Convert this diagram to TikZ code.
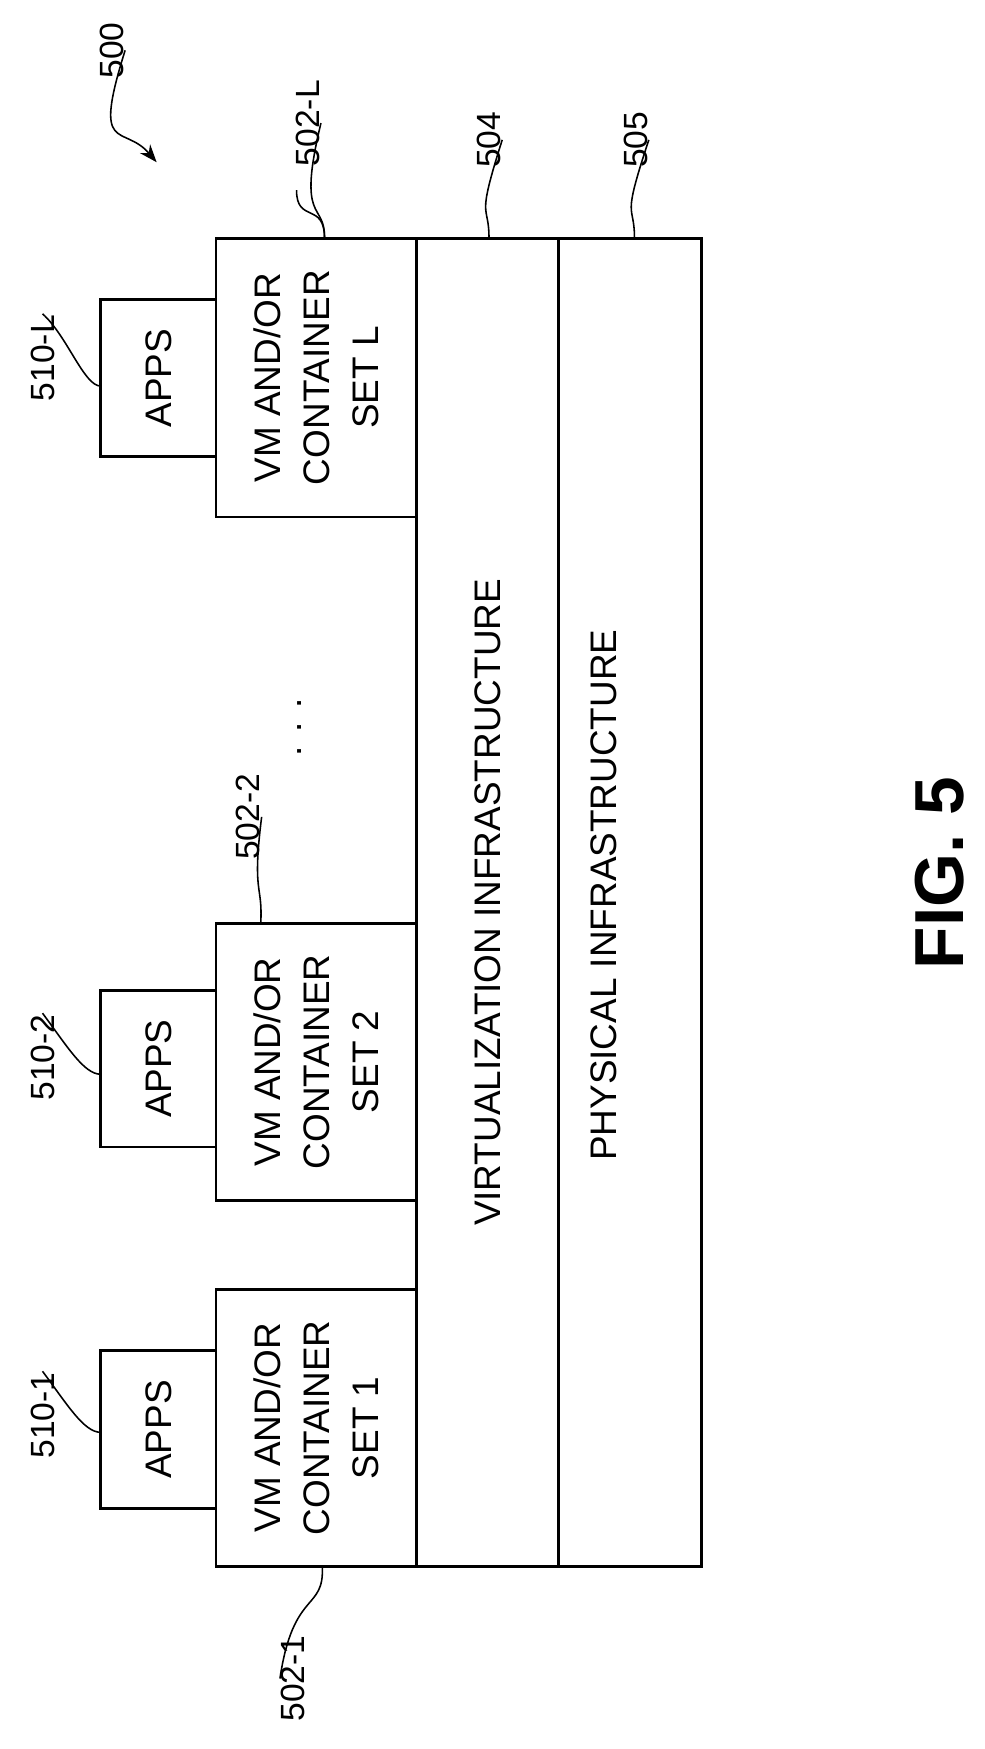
\documentclass[tikz,border=0pt]{standalone}
\usepackage{fontspec}
\setmainfont{Liberation Sans}
\usetikzlibrary{arrows.meta}
\tikzset{
>={Stealth[width=12pt,length=16pt]},
	layer/.style={
		rectangle,
		draw=black, line width=2.6pt,
		rotate=90,
		inner sep=0pt,
		font=\fontsize{33}{44}\selectfont,
		align=center},
	ref/.style={
		rotate=90,
		inner sep=1pt,
		font=\fontsize{30}{36}\selectfont},
	lead/.style={line width=1.4pt}
}
\begin{document}
\begin{tikzpicture}[x=1pt,y=-1pt]
\useasboundingbox (0,0) rectangle (880,1563);
% base layers
\node[layer, minimum width=1187, minimum height=127] (virt) at (435.5,806.5) {VIRTUALIZATION INFRASTRUCTURE};
\node[layer, minimum width=1187, minimum height=128] (phys) at (563,806.5) {};
\node[layer, draw=none, font=\fontsize{33}{44}\selectfont] (physt) at (540,800) {PHYSICAL INFRASTRUCTURE};
% VM / container sets
\node[layer, minimum width=249, minimum height=179] (setL) at (282.5,337.5) {VM AND/OR\\CONTAINER\\SET L};
\node[layer, minimum width=248, minimum height=179] (set2) at (282.5,949) {VM AND/OR\\CONTAINER\\SET 2};
\node[layer, minimum width=248, minimum height=179] (set1) at (282.5,1276) {VM AND/OR\\CONTAINER\\SET 1};
% apps
\node[layer, minimum width=140, minimum height=103] (appsL) at (141.5,338) {APPS};
\node[layer, minimum width=140, minimum height=103] (apps2) at (141.5,955) {APPS};
\node[layer, minimum width=141, minimum height=103] (apps1) at (141.5,1277.5) {APPS};
\node[layer, draw=none] (dots) at (268,650) {. . .};
% reference numerals
\node[ref] (r500) at (100,45) {500};
\node[ref] (r502L) at (275,110) {502-L};
\node[ref] (r504) at (437,125) {504};
\node[ref] (r505) at (568,125) {505};
\node[ref] (r510L) at (38,320) {510-L};
\node[ref] (r5022) at (222,730) {502-2};
\node[ref] (r5102) at (38,945) {510-2};
\node[ref] (r5101) at (38,1265) {510-1};
\node[ref] (r5021) at (262,1500) {502-1};
\node[rotate=90, font=\bfseries\fontsize{62}{70}\selectfont] (fig) at (840,780) {FIG. 5};
% leaders
\draw[lead, ->] (r500.south) .. controls (82,140) and (110,110) .. (140,145);
\draw[lead] (r502L.south) .. controls (265,200) and (290,180) .. (setL.east -| 290,0);
\draw[lead] (265,170) .. controls (265,200) and (290,180) .. (290,213);
\draw[lead] (r504.south) .. controls (425,200) and (437,180) .. (437,213);
\draw[lead] (r505.south) .. controls (555,200) and (567,180) .. (567,213);
\draw[lead] (r510L.east) .. controls (60,300) and (75,345) .. (90,345);
\draw[lead] (r5022.south) .. controls (225,800) and (235,790) .. (233,825);
\draw[lead] (r5102.east) .. controls (60,935) and (75,960) .. (90,960);
\draw[lead] (r5101.east) .. controls (60,1255) and (75,1280) .. (90,1280);
\draw[lead] (r5021.north) .. controls (262,1420) and (290,1440) .. (288,1400);
\end{tikzpicture}
\end{document}
